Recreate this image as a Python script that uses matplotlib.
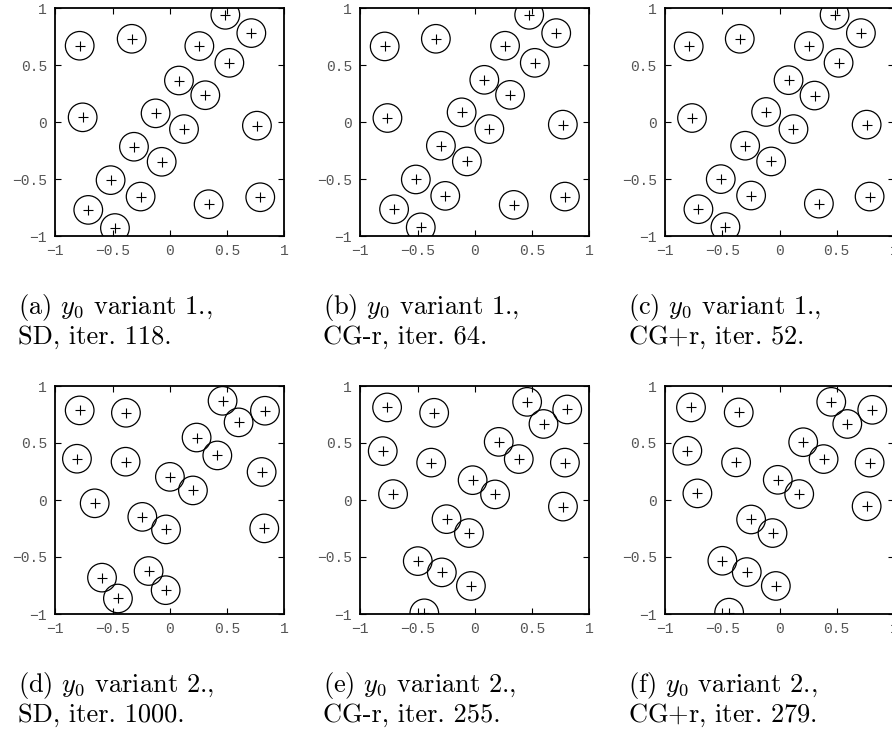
import matplotlib
matplotlib.use("Agg")
import matplotlib.pyplot as plt
from matplotlib.patches import Circle
import numpy as np

plt.rcParams['mathtext.fontset'] = 'cm'
plt.rcParams['axes.unicode_minus'] = True

# ---- data ----
x_a = [0.485, 0.712, -0.787, -0.333, 0.258, 0.520, 0.080, 0.310, -0.761, -0.124,
       0.124, 0.761, -0.313, -0.071, -0.517, -0.255, -0.712, -0.479, 0.339, 0.790]
y_a = [0.940, 0.780, 0.669, 0.730, 0.666, 0.519, 0.364, 0.235, 0.041, 0.076,
       -0.062, -0.032, -0.217, -0.349, -0.510, -0.654, -0.771, -0.930, -0.721, -0.660]

x_b = [0.475, 0.711, -0.787, -0.340, 0.264, 0.524, 0.083, 0.308, -0.763, -0.115,
       0.127, 0.769, -0.296, -0.069, -0.515, -0.258, -0.705, -0.472, 0.340, 0.787]
y_b = [0.940, 0.780, 0.663, 0.730, 0.669, 0.519, 0.370, 0.238, 0.035, 0.085,
       -0.062, -0.023, -0.208, -0.346, -0.504, -0.648, -0.765, -0.924, -0.727, -0.654]

x_c = [0.481, 0.711, -0.793, -0.347, 0.257, 0.516, 0.079, 0.306, -0.764, -0.117,
       0.122, 0.761, -0.300, -0.073, -0.513, -0.248, -0.708, -0.472, 0.344, 0.787]
y_c = [0.940, 0.780, 0.663, 0.730, 0.666, 0.519, 0.367, 0.232, 0.035, 0.088,
       -0.062, -0.023, -0.208, -0.346, -0.501, -0.645, -0.765, -0.921, -0.716, -0.654]

x_d = [0.461, 0.831, -0.787, -0.383, 0.601, 0.234, 0.415, -0.811, -0.386, 0.802,
       0.001, 0.202, -0.656, -0.240, -0.033, 0.825, -0.185, -0.592, -0.036, -0.453]
y_d = [0.870, 0.783, 0.786, 0.765, 0.681, 0.548, 0.391, 0.362, 0.336, 0.246,
       0.203, 0.084, -0.029, -0.148, -0.258, -0.249, -0.623, -0.681, -0.791, -0.864]

x_e = [0.457, 0.807, -0.766, -0.355, 0.600, 0.209, 0.384, -0.804, -0.381, 0.787,
       -0.019, 0.177, -0.714, 0.770, -0.247, -0.051, -0.498, -0.288, -0.034, -0.441]
y_e = [0.861, 0.794, 0.812, 0.765, 0.667, 0.510, 0.359, 0.429, 0.328, 0.328,
       0.174, 0.049, 0.052, -0.058, -0.168, -0.290, -0.536, -0.635, -0.754, -0.994]

x_f = [0.452, 0.810, -0.773, -0.356, 0.592, 0.207, 0.385, -0.805, -0.379, 0.787,
       -0.015, 0.172, -0.717, 0.761, -0.248, -0.061, -0.499, -0.286, -0.032, -0.440]
y_f = [0.861, 0.791, 0.812, 0.768, 0.667, 0.507, 0.359, 0.432, 0.330, 0.328,
       0.177, 0.052, 0.058, -0.055, -0.171, -0.290, -0.533, -0.632, -0.754, -0.988]

radius = 0.125

captions = [
    (r"(a) $y_0$ variant 1.,", "SD, iter. 118."),
    (r"(b) $y_0$ variant 1.,", "CG-r, iter. 64."),
    (r"(c) $y_0$ variant 1.,", r"CG$+$r, iter. 52."),
    (r"(d) $y_0$ variant 2.,", "SD, iter. 1000."),
    (r"(e) $y_0$ variant 2.,", "CG-r, iter. 255."),
    (r"(f) $y_0$ variant 2.,", r"CG$+$r, iter. 279."),
]
xs = [x_a, x_b, x_c, x_d, x_e, x_f]
ys = [y_a, y_b, y_c, y_d, y_e, y_f]

ticks = [-1, -0.5, 0, 0.5, 1]
tick_labels = ["\u22121", "\u22120.5", "0", "0.5", "1"]

W, H = 892, 731
fig = plt.figure(figsize=(W / 100, H / 100), dpi=100)

lefts = [55.3, 360.3, 665.0]
tops = [8.0, 386.0]
aw, ah = 229.0, 228.0

for i in range(6):
    row, col = divmod(i, 3)
    l = lefts[col]
    t = tops[row]
    ax = fig.add_axes([l / W, 1 - (t + ah) / H, aw / W, ah / H])
    ax.set_xlim(-1, 1)
    ax.set_ylim(-1, 1)
    for xv, yv in zip(xs[i], ys[i]):
        ax.add_patch(Circle((xv, yv), radius, fill=False, ec='black', lw=0.9))
    ax.plot(xs[i], ys[i], ls='none', marker='+', ms=7, mew=0.8, color='black')
    ax.set_xticks(ticks)
    ax.set_yticks(ticks)
    ax.set_xticklabels(tick_labels)
    ax.set_yticklabels(tick_labels)
    ax.tick_params(direction='in', length=4.5, width=0.8, top=True, right=True,
                   labelsize=10.5, labelcolor='#555555', color='black', pad=6)
    for lab in ax.get_xticklabels() + ax.get_yticklabels():
        lab.set_fontfamily('Liberation Mono')
    for sp in ax.spines.values():
        sp.set_linewidth(1.3)
    # captions
    cx = (l - 37.5) / W
    by1 = t + ah + 78
    fig.text(cx, 1 - by1 / H, captions[i][0], fontsize=19, family='cmr10',
             va='baseline', ha='left')
    fig.text(cx, 1 - (by1 + 30) / H, captions[i][1], fontsize=19, family='cmr10',
             va='baseline', ha='left')

fig.savefig("out.png", dpi=100)
